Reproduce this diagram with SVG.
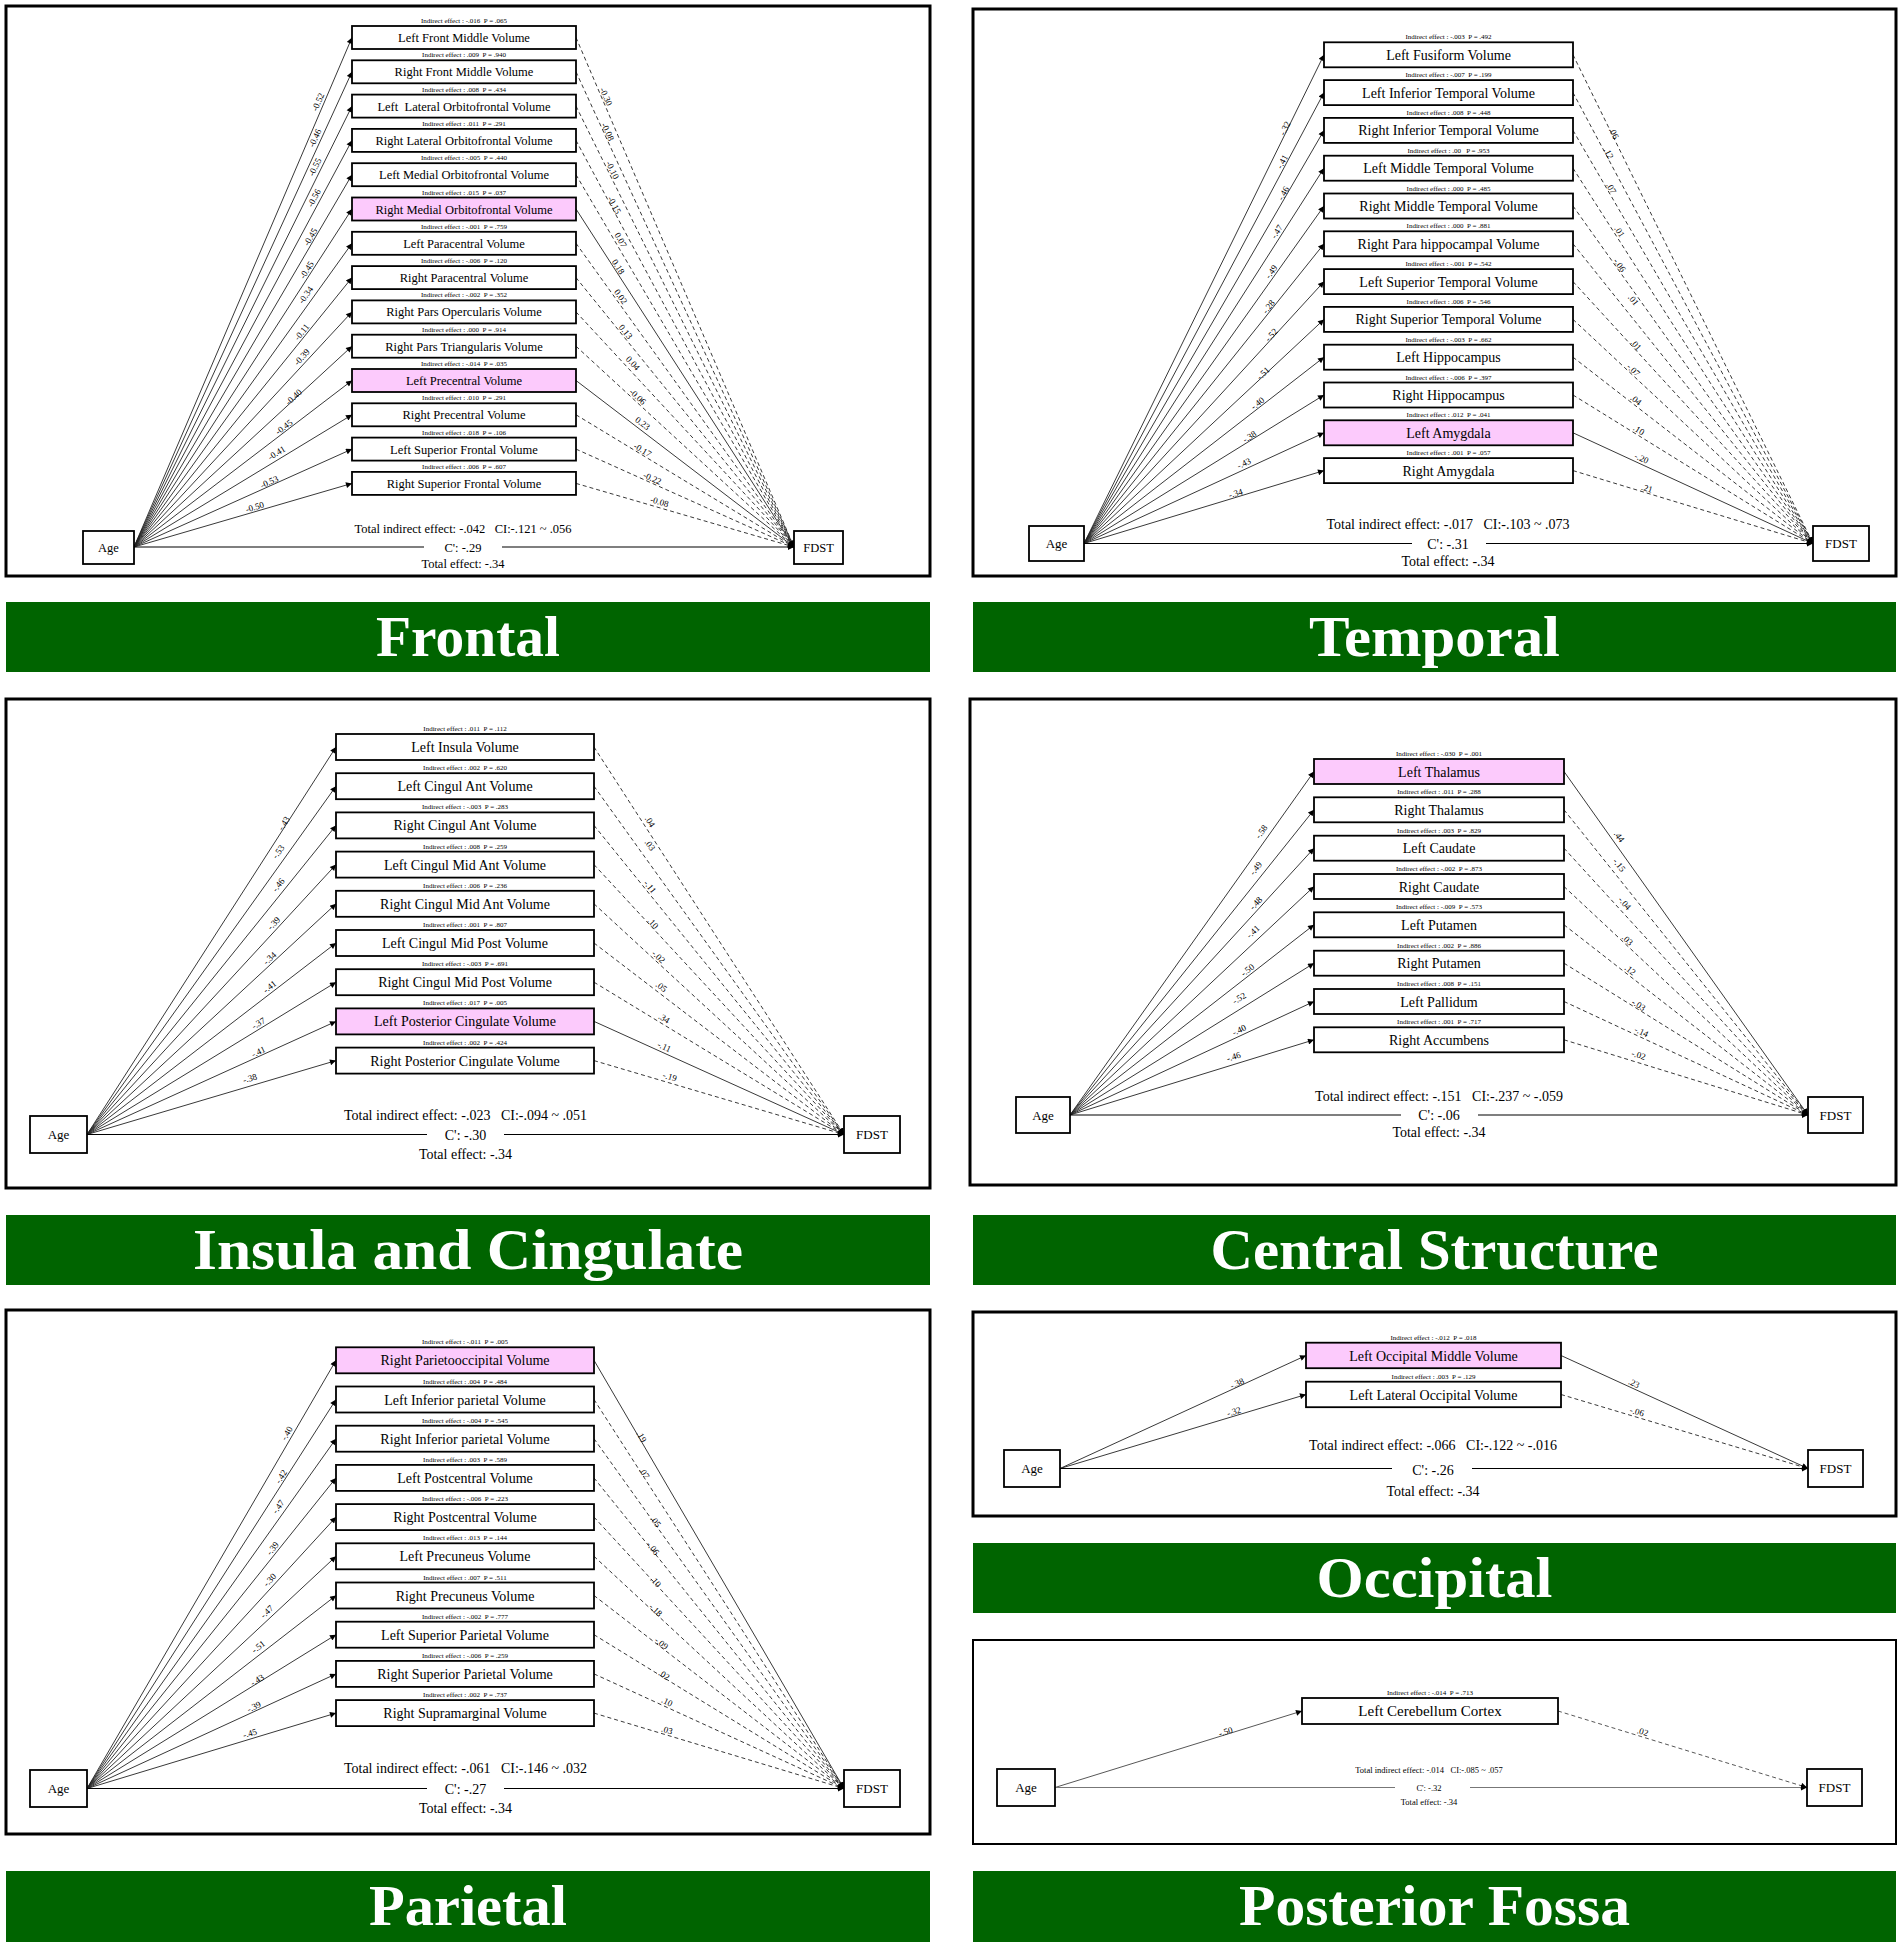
<svg xmlns="http://www.w3.org/2000/svg" width="1902" height="1951" viewBox="0 0 1902 1951">
<style>
text{font-family:"Liberation Serif","Times New Roman",serif;fill:#000}
.pn{fill:none;stroke:#000;stroke-width:3}
.bar{fill:#006400}
.tt{font-weight:bold;font-size:57px;fill:#fff;text-anchor:middle}
.bx{fill:#fff;stroke:#000;stroke-width:1.8}
.hl{fill:#fccafc}
.nm{font-size:14px;text-anchor:middle}
.nf{font-size:12.5px;text-anchor:middle}
.ie{font-size:7px;text-anchor:middle}
.el{font-size:9px;text-anchor:middle}
.sm{font-size:14px;text-anchor:middle}
.smf{font-size:12.5px;text-anchor:middle}
.smp{font-size:8.5px;text-anchor:middle}
.a{stroke:#222;stroke-width:0.9;fill:none;marker-end:url(#ah)}
.d{stroke:#222;stroke-width:0.9;fill:none;stroke-dasharray:4 3;marker-end:url(#ah)}
.c{stroke:#000;stroke-width:1.2;fill:none;marker-end:url(#ah)}
.gap{fill:#fff}
</style>
<defs>
<marker id="ah" viewBox="0 0 10 10" refX="10" refY="5" markerWidth="8" markerHeight="6" markerUnits="userSpaceOnUse" orient="auto"><path d="M0,0 L10,5 L0,10 z" fill="#000"/></marker>
</defs>
<rect width="1902" height="1951" fill="#fff"/>

<!-- panels and title bars -->
<g id="panels">
<rect class="pn" x="6" y="6" width="924" height="570"/>
<rect class="pn" x="973" y="9" width="923" height="567"/>
<rect class="pn" x="6" y="699" width="924" height="489"/>
<rect class="pn" x="970" y="699" width="926" height="486"/>
<rect class="pn" x="6" y="1310" width="924" height="524"/>
<rect class="pn" x="973" y="1312" width="923" height="204"/>
<rect class="pn" x="973" y="1640" width="923" height="204" style="stroke-width:2"/>
</g>
<g id="titles">
<rect class="bar" x="6" y="602" width="924" height="70"/>
<text class="tt" x="468" y="655.5" textLength="184" lengthAdjust="spacingAndGlyphs">Frontal</text>
<rect class="bar" x="973" y="602" width="923" height="70"/>
<text class="tt" x="1434.5" y="655.5" textLength="251" lengthAdjust="spacingAndGlyphs">Temporal</text>
<rect class="bar" x="6" y="1215" width="924" height="70"/>
<text class="tt" x="468" y="1268.5" textLength="550" lengthAdjust="spacingAndGlyphs">Insula and Cingulate</text>
<rect class="bar" x="973" y="1215" width="923" height="70"/>
<text class="tt" x="1434.5" y="1268.5" textLength="448" lengthAdjust="spacingAndGlyphs">Central Structure</text>
<rect class="bar" x="973" y="1543" width="923" height="70"/>
<text class="tt" x="1434.5" y="1596.5" textLength="236" lengthAdjust="spacingAndGlyphs">Occipital</text>
<rect class="bar" x="6" y="1871" width="924" height="71"/>
<text class="tt" x="468" y="1925" textLength="198" lengthAdjust="spacingAndGlyphs">Parietal</text>
<rect class="bar" x="973" y="1871" width="923" height="71"/>
<text class="tt" x="1434.5" y="1925" textLength="391" lengthAdjust="spacingAndGlyphs">Posterior Fossa</text>
</g>

<!-- ================= FRONTAL ================= -->
<g id="fr-edges">
<line class="a" x1="134" y1="547" x2="352" y2="37.5"/>
<line class="a" x1="134" y1="547" x2="352" y2="71.8"/>
<line class="a" x1="134" y1="547" x2="352" y2="106.1"/>
<line class="a" x1="134" y1="547" x2="352" y2="140.4"/>
<line class="a" x1="134" y1="547" x2="352" y2="174.7"/>
<line class="a" x1="134" y1="547" x2="352" y2="209"/>
<line class="a" x1="134" y1="547" x2="352" y2="243.3"/>
<line class="a" x1="134" y1="547" x2="352" y2="277.6"/>
<line class="a" x1="134" y1="547" x2="352" y2="311.9"/>
<line class="a" x1="134" y1="547" x2="352" y2="346.2"/>
<line class="a" x1="134" y1="547" x2="352" y2="380.5"/>
<line class="a" x1="134" y1="547" x2="352" y2="414.8"/>
<line class="a" x1="134" y1="547" x2="352" y2="449.1"/>
<line class="a" x1="134" y1="547" x2="352" y2="483.4"/>
<line class="d" x1="576" y1="37.5" x2="794" y2="547"/>
<line class="d" x1="576" y1="71.8" x2="794" y2="547"/>
<line class="d" x1="576" y1="106.1" x2="794" y2="547"/>
<line class="d" x1="576" y1="140.4" x2="794" y2="547"/>
<line class="d" x1="576" y1="174.7" x2="794" y2="547"/>
<line class="a" x1="576" y1="209" x2="794" y2="547"/>
<line class="d" x1="576" y1="243.3" x2="794" y2="547"/>
<line class="d" x1="576" y1="277.6" x2="794" y2="547"/>
<line class="d" x1="576" y1="311.9" x2="794" y2="547"/>
<line class="d" x1="576" y1="346.2" x2="794" y2="547"/>
<line class="a" x1="576" y1="380.5" x2="794" y2="547"/>
<line class="d" x1="576" y1="414.8" x2="794" y2="547"/>
<line class="d" x1="576" y1="449.1" x2="794" y2="547"/>
<line class="d" x1="576" y1="483.4" x2="794" y2="547"/>
<line class="c" x1="134" y1="547" x2="794" y2="547"/>
<rect class="gap" x="424" y="540" width="78" height="14"/>
<text class="el" transform="translate(318 102) rotate(-66.8)" y="3">-0.52</text>
<text class="el" transform="translate(315 138) rotate(-65.4)" y="3">-0.46</text>
<text class="el" transform="translate(315 167) rotate(-63.7)" y="3">-0.55</text>
<text class="el" transform="translate(314 198) rotate(-61.8)" y="3">-0.56</text>
<text class="el" transform="translate(310.5 237) rotate(-59.7)" y="3">-0.45</text>
<text class="el" transform="translate(306.7 270) rotate(-57.2)" y="3">-0.45</text>
<text class="el" transform="translate(305.7 295) rotate(-54.3)" y="3">-0.34</text>
<text class="el" transform="translate(301.8 332) rotate(-51)" y="3">-0.11</text>
<text class="el" transform="translate(301.8 357) rotate(-47.2)" y="3">-0.39</text>
<text class="el" transform="translate(293.6 397) rotate(-42.6)" y="3">-0.40</text>
<text class="el" transform="translate(284 427) rotate(-37.4)" y="3">-0.45</text>
<text class="el" transform="translate(276.6 453) rotate(-31.2)" y="3">-0.41</text>
<text class="el" transform="translate(269.3 482) rotate(-24.2)" y="3">-0.53</text>
<text class="el" transform="translate(254.8 507) rotate(-16.3)" y="3">-0.50</text>
<text class="el" transform="translate(606 96.7) rotate(66.8)" y="3">-0.30</text>
<text class="el" transform="translate(607.7 131.7) rotate(65.4)" y="3">-0.08</text>
<text class="el" transform="translate(612.5 170) rotate(63.7)" y="3">-0.10</text>
<text class="el" transform="translate(614.4 205) rotate(61.8)" y="3">-0.15</text>
<text class="el" transform="translate(620.7 240) rotate(59.7)" y="3">0.07</text>
<text class="el" transform="translate(618.3 266.7) rotate(57.2)" y="3">0.18</text>
<text class="el" transform="translate(620.7 296.7) rotate(54.3)" y="3">0.02</text>
<text class="el" transform="translate(625.6 331.7) rotate(51)" y="3">0.13</text>
<text class="el" transform="translate(632.9 363.3) rotate(47.2)" y="3">0.04</text>
<text class="el" transform="translate(637.7 396.7) rotate(42.6)" y="3">-0.06</text>
<text class="el" transform="translate(642.6 423.3) rotate(37.4)" y="3">0.23</text>
<text class="el" transform="translate(642.6 450) rotate(31.2)" y="3">-0.17</text>
<text class="el" transform="translate(652.3 478.3) rotate(24.2)" y="3">-0.22</text>
<text class="el" transform="translate(659.5 501.7) rotate(16.3)" y="3">-0.08</text>
<text class="smf" x="463" y="533">Total indirect effect: -.042&#160;&#160; CI:-.121 ~ .056</text>
<text class="smf" x="463" y="551.5">C': -.29</text>
<text class="smf" x="463" y="568">Total effect: -.34</text>
</g>
<g id="fr-age"><rect class="bx" x="83" y="531" width="51" height="33"/><text class="nf" x="108.5" y="551.5">Age</text></g>
<g id="fr-fdst"><rect class="bx" x="794" y="531" width="49" height="33"/><text class="nf" x="818.5" y="551.5">FDST</text></g>
<g id="fr-1"><text class="ie" x="464" y="23">Indirect effect : -.016&#160; P = .065</text><rect class="bx" x="352" y="26" width="224" height="23"/><text class="nf" x="464" y="42">Left Front Middle Volume</text></g>
<g id="fr-2"><text class="ie" x="464" y="57.3">Indirect effect : .009&#160; P = .940</text><rect class="bx" x="352" y="60.3" width="224" height="23"/><text class="nf" x="464" y="76.3">Right Front Middle Volume</text></g>
<g id="fr-3"><text class="ie" x="464" y="91.6">Indirect effect : .008&#160; P = .434</text><rect class="bx" x="352" y="94.6" width="224" height="23"/><text class="nf" x="464" y="110.6">Left&#160; Lateral Orbitofrontal Volume</text></g>
<g id="fr-4"><text class="ie" x="464" y="125.9">Indirect effect : .011&#160; P = .291</text><rect class="bx" x="352" y="128.9" width="224" height="23"/><text class="nf" x="464" y="144.9">Right Lateral Orbitofrontal Volume</text></g>
<g id="fr-5"><text class="ie" x="464" y="160.2">Indirect effect : -.005&#160; P = .440</text><rect class="bx" x="352" y="163.2" width="224" height="23"/><text class="nf" x="464" y="179.2">Left Medial Orbitofrontal Volume</text></g>
<g id="fr-6"><text class="ie" x="464" y="194.5">Indirect effect : .015&#160; P = .037</text><rect class="bx hl" x="352" y="197.5" width="224" height="23"/><text class="nf" x="464" y="213.5">Right Medial Orbitofrontal Volume</text></g>
<g id="fr-7"><text class="ie" x="464" y="228.8">Indirect effect : -.001&#160; P = .759</text><rect class="bx" x="352" y="231.8" width="224" height="23"/><text class="nf" x="464" y="247.8">Left Paracentral Volume</text></g>
<g id="fr-8"><text class="ie" x="464" y="263.1">Indirect effect : -.006&#160; P = .120</text><rect class="bx" x="352" y="266.1" width="224" height="23"/><text class="nf" x="464" y="282.1">Right Paracentral Volume</text></g>
<g id="fr-9"><text class="ie" x="464" y="297.4">Indirect effect : -.002&#160; P = .352</text><rect class="bx" x="352" y="300.4" width="224" height="23"/><text class="nf" x="464" y="316.4">Right Pars Opercularis Volume</text></g>
<g id="fr-10"><text class="ie" x="464" y="331.7">Indirect effect : .000&#160; P = .914</text><rect class="bx" x="352" y="334.7" width="224" height="23"/><text class="nf" x="464" y="350.7">Right Pars Triangularis Volume</text></g>
<g id="fr-11"><text class="ie" x="464" y="366">Indirect effect : -.014&#160; P = .035</text><rect class="bx hl" x="352" y="369" width="224" height="23"/><text class="nf" x="464" y="385">Left Precentral Volume</text></g>
<g id="fr-12"><text class="ie" x="464" y="400.3">Indirect effect : .010&#160; P = .291</text><rect class="bx" x="352" y="403.3" width="224" height="23"/><text class="nf" x="464" y="419.3">Right Precentral Volume</text></g>
<g id="fr-13"><text class="ie" x="464" y="434.6">Indirect effect : .018&#160; P = .106</text><rect class="bx" x="352" y="437.6" width="224" height="23"/><text class="nf" x="464" y="453.6">Left Superior Frontal Volume</text></g>
<g id="fr-14"><text class="ie" x="464" y="468.9">Indirect effect : .006&#160; P = .607</text><rect class="bx" x="352" y="471.9" width="224" height="23"/><text class="nf" x="464" y="487.9">Right Superior Frontal Volume</text></g>

<!-- ================= TEMPORAL ================= -->
<g id="te-edges">
<line class="a" x1="1084" y1="543.5" x2="1324" y2="54.8"/>
<line class="a" x1="1084" y1="543.5" x2="1324" y2="92.6"/>
<line class="a" x1="1084" y1="543.5" x2="1324" y2="130.4"/>
<line class="a" x1="1084" y1="543.5" x2="1324" y2="168.2"/>
<line class="a" x1="1084" y1="543.5" x2="1324" y2="206"/>
<line class="a" x1="1084" y1="543.5" x2="1324" y2="243.8"/>
<line class="a" x1="1084" y1="543.5" x2="1324" y2="281.6"/>
<line class="a" x1="1084" y1="543.5" x2="1324" y2="319.4"/>
<line class="a" x1="1084" y1="543.5" x2="1324" y2="357.2"/>
<line class="a" x1="1084" y1="543.5" x2="1324" y2="395"/>
<line class="a" x1="1084" y1="543.5" x2="1324" y2="432.8"/>
<line class="a" x1="1084" y1="543.5" x2="1324" y2="470.6"/>
<line class="d" x1="1573" y1="54.8" x2="1813" y2="543.5"/>
<line class="d" x1="1573" y1="92.6" x2="1813" y2="543.5"/>
<line class="d" x1="1573" y1="130.4" x2="1813" y2="543.5"/>
<line class="d" x1="1573" y1="168.2" x2="1813" y2="543.5"/>
<line class="d" x1="1573" y1="206" x2="1813" y2="543.5"/>
<line class="d" x1="1573" y1="243.8" x2="1813" y2="543.5"/>
<line class="d" x1="1573" y1="281.6" x2="1813" y2="543.5"/>
<line class="d" x1="1573" y1="319.4" x2="1813" y2="543.5"/>
<line class="d" x1="1573" y1="357.2" x2="1813" y2="543.5"/>
<line class="d" x1="1573" y1="395" x2="1813" y2="543.5"/>
<line class="a" x1="1573" y1="432.8" x2="1813" y2="543.5"/>
<line class="d" x1="1573" y1="470.6" x2="1813" y2="543.5"/>
<line class="c" x1="1084" y1="543.5" x2="1813" y2="543.5"/>
<rect class="gap" x="1412" y="536" width="74" height="15"/>
<text class="el" transform="translate(1285 128.3) rotate(-63.8)" y="3">-.32</text>
<text class="el" transform="translate(1282.3 161.7) rotate(-62)" y="3">-.41</text>
<text class="el" transform="translate(1283.4 193.3) rotate(-59.8)" y="3">-.46</text>
<text class="el" transform="translate(1276.8 231.7) rotate(-57.4)" y="3">-.47</text>
<text class="el" transform="translate(1271.3 271.7) rotate(-54.6)" y="3">-.49</text>
<text class="el" transform="translate(1268.6 306.7) rotate(-51.3)" y="3">-.28</text>
<text class="el" transform="translate(1271.3 335) rotate(-47.5)" y="3">-.52</text>
<text class="el" transform="translate(1263.1 373.3) rotate(-43)" y="3">-.51</text>
<text class="el" transform="translate(1257.6 403.3) rotate(-37.8)" y="3">-.40</text>
<text class="el" transform="translate(1249.4 436.7) rotate(-31.8)" y="3">-.38</text>
<text class="el" transform="translate(1243.9 463.3) rotate(-24.7)" y="3">-.43</text>
<text class="el" transform="translate(1235.7 493.3) rotate(-16.9)" y="3">-.34</text>
<text class="el" transform="translate(1614 133.3) rotate(63.8)" y="3">.06</text>
<text class="el" transform="translate(1608.7 153.3) rotate(62)" y="3">.12</text>
<text class="el" transform="translate(1611.4 188.3) rotate(59.8)" y="3">.07</text>
<text class="el" transform="translate(1619.6 231.7) rotate(57.4)" y="3">.01</text>
<text class="el" transform="translate(1619.6 265) rotate(54.6)" y="3">-.06</text>
<text class="el" transform="translate(1633.4 300) rotate(51.3)" y="3">.01</text>
<text class="el" transform="translate(1636 345) rotate(47.5)" y="3">.01</text>
<text class="el" transform="translate(1633.4 370) rotate(43)" y="3">-.07</text>
<text class="el" transform="translate(1636 400) rotate(37.8)" y="3">.04</text>
<text class="el" transform="translate(1638.8 430) rotate(31.8)" y="3">.10</text>
<text class="el" transform="translate(1641.6 458.3) rotate(24.7)" y="3">-.20</text>
<text class="el" transform="translate(1647 488.3) rotate(16.9)" y="3">.21</text>
<text class="sm" x="1448" y="529">Total indirect effect: -.017&#160;&#160; CI:-.103 ~ .073</text>
<text class="sm" x="1448" y="548.5">C': -.31</text>
<text class="sm" x="1448" y="566">Total effect: -.34</text>
</g>
<g id="te-age"><rect class="bx" x="1029" y="526" width="55" height="35"/><text class="nm" x="1056.5" y="548" style="font-size:13px">Age</text></g>
<g id="te-fdst"><rect class="bx" x="1813" y="526" width="56" height="35"/><text class="nm" x="1841" y="548" style="font-size:13px">FDST</text></g>
<g id="te-1"><text class="ie" x="1448.5" y="39.3">Indirect effect : -.003&#160; P = .492</text><rect class="bx" x="1324" y="42.3" width="249" height="25"/><text class="nm" x="1448.5" y="59.8">Left Fusiform Volume</text></g>
<g id="te-2"><text class="ie" x="1448.5" y="77.1">Indirect effect : -.007&#160; P = .199</text><rect class="bx" x="1324" y="80.1" width="249" height="25"/><text class="nm" x="1448.5" y="97.6">Left Inferior Temporal Volume</text></g>
<g id="te-3"><text class="ie" x="1448.5" y="114.9">Indirect effect : .008&#160; P = .448</text><rect class="bx" x="1324" y="117.9" width="249" height="25"/><text class="nm" x="1448.5" y="135.4">Right Inferior Temporal Volume</text></g>
<g id="te-4"><text class="ie" x="1448.5" y="152.7">Indirect effect : .00&#160;&#160; P = .953</text><rect class="bx" x="1324" y="155.7" width="249" height="25"/><text class="nm" x="1448.5" y="173.2">Left Middle Temporal Volume</text></g>
<g id="te-5"><text class="ie" x="1448.5" y="190.5">Indirect effect : .000&#160; P = .485</text><rect class="bx" x="1324" y="193.5" width="249" height="25"/><text class="nm" x="1448.5" y="211">Right Middle Temporal Volume</text></g>
<g id="te-6"><text class="ie" x="1448.5" y="228.3">Indirect effect : .000&#160; P = .881</text><rect class="bx" x="1324" y="231.3" width="249" height="25"/><text class="nm" x="1448.5" y="248.8">Right Para hippocampal Volume</text></g>
<g id="te-7"><text class="ie" x="1448.5" y="266.1">Indirect effect : -.001&#160; P = .542</text><rect class="bx" x="1324" y="269.1" width="249" height="25"/><text class="nm" x="1448.5" y="286.6">Left Superior Temporal Volume</text></g>
<g id="te-8"><text class="ie" x="1448.5" y="303.9">Indirect effect : .006&#160; P = .546</text><rect class="bx" x="1324" y="306.9" width="249" height="25"/><text class="nm" x="1448.5" y="324.4">Right Superior Temporal Volume</text></g>
<g id="te-9"><text class="ie" x="1448.5" y="341.7">Indirect effect : -.003&#160; P = .662</text><rect class="bx" x="1324" y="344.7" width="249" height="25"/><text class="nm" x="1448.5" y="362.2">Left Hippocampus</text></g>
<g id="te-10"><text class="ie" x="1448.5" y="379.5">Indirect effect : -.006&#160; P = .397</text><rect class="bx" x="1324" y="382.5" width="249" height="25"/><text class="nm" x="1448.5" y="400">Right Hippocampus</text></g>
<g id="te-11"><text class="ie" x="1448.5" y="417.3">Indirect effect : .012&#160; P = .041</text><rect class="bx hl" x="1324" y="420.3" width="249" height="25"/><text class="nm" x="1448.5" y="437.8">Left Amygdala</text></g>
<g id="te-12"><text class="ie" x="1448.5" y="455.1">Indirect effect : .001&#160; P = .057</text><rect class="bx" x="1324" y="458.1" width="249" height="25"/><text class="nm" x="1448.5" y="475.6">Right Amygdala</text></g>

<!-- ================= INSULA AND CINGULATE ================= -->
<g id="in-edges">
<line class="a" x1="87" y1="1134.5" x2="336" y2="747"/>
<line class="a" x1="87" y1="1134.5" x2="336" y2="786.2"/>
<line class="a" x1="87" y1="1134.5" x2="336" y2="825.4"/>
<line class="a" x1="87" y1="1134.5" x2="336" y2="864.6"/>
<line class="a" x1="87" y1="1134.5" x2="336" y2="903.8"/>
<line class="a" x1="87" y1="1134.5" x2="336" y2="943"/>
<line class="a" x1="87" y1="1134.5" x2="336" y2="982.2"/>
<line class="a" x1="87" y1="1134.5" x2="336" y2="1021.4"/>
<line class="a" x1="87" y1="1134.5" x2="336" y2="1060.6"/>
<line class="d" x1="594" y1="747" x2="844" y2="1134.5"/>
<line class="d" x1="594" y1="786.2" x2="844" y2="1134.5"/>
<line class="d" x1="594" y1="825.4" x2="844" y2="1134.5"/>
<line class="d" x1="594" y1="864.6" x2="844" y2="1134.5"/>
<line class="d" x1="594" y1="903.8" x2="844" y2="1134.5"/>
<line class="d" x1="594" y1="943" x2="844" y2="1134.5"/>
<line class="d" x1="594" y1="982.2" x2="844" y2="1134.5"/>
<line class="a" x1="594" y1="1021.4" x2="844" y2="1134.5"/>
<line class="d" x1="594" y1="1060.6" x2="844" y2="1134.5"/>
<line class="c" x1="87" y1="1134.5" x2="844" y2="1134.5"/>
<rect class="gap" x="427" y="1127" width="77" height="15"/>
<text class="el" transform="translate(283.9 823.3) rotate(-57.3)" y="3">-.43</text>
<text class="el" transform="translate(278.3 851.7) rotate(-54.4)" y="3">-.53</text>
<text class="el" transform="translate(278.3 885) rotate(-51.1)" y="3">-.46</text>
<text class="el" transform="translate(273.7 923.3) rotate(-47.3)" y="3">-.39</text>
<text class="el" transform="translate(269.7 958.3) rotate(-42.8)" y="3">-.34</text>
<text class="el" transform="translate(269.7 986.7) rotate(-37.6)" y="3">-.41</text>
<text class="el" transform="translate(258.4 1023.3) rotate(-31.5)" y="3">-.37</text>
<text class="el" transform="translate(258.4 1051.7) rotate(-24.4)" y="3">-.41</text>
<text class="el" transform="translate(249.9 1078.3) rotate(-16.5)" y="3">-.38</text>
<text class="el" transform="translate(650 821.7) rotate(57.3)" y="3">.04</text>
<text class="el" transform="translate(650 845) rotate(54.4)" y="3">.03</text>
<text class="el" transform="translate(650 886.7) rotate(51.1)" y="3">-.11</text>
<text class="el" transform="translate(652.9 923.3) rotate(47.3)" y="3">.10</text>
<text class="el" transform="translate(658.5 956.7) rotate(42.8)" y="3">-.02</text>
<text class="el" transform="translate(661.4 986.7) rotate(37.6)" y="3">.05</text>
<text class="el" transform="translate(664.2 1018.3) rotate(31.5)" y="3">.34</text>
<text class="el" transform="translate(664.2 1046.7) rotate(24.4)" y="3">-.11</text>
<text class="el" transform="translate(669.9 1076.7) rotate(16.5)" y="3">-.19</text>
<text class="sm" x="465.5" y="1119.5">Total indirect effect: -.023&#160;&#160; CI:-.094 ~ .051</text>
<text class="sm" x="465.5" y="1139.5">C': -.30</text>
<text class="sm" x="465.5" y="1159">Total effect: -.34</text>
</g>
<g id="in-age"><rect class="bx" x="30" y="1116" width="57" height="37"/><text class="nm" x="58.5" y="1139" style="font-size:13px">Age</text></g>
<g id="in-fdst"><rect class="bx" x="844" y="1116" width="56" height="37"/><text class="nm" x="872" y="1139" style="font-size:13px">FDST</text></g>
<g id="in-1"><text class="ie" x="465" y="731">Indirect effect : .011&#160; P = .112</text><rect class="bx" x="336" y="734" width="258" height="26"/><text class="nm" x="465" y="752">Left Insula Volume</text></g>
<g id="in-2"><text class="ie" x="465" y="770.2">Indirect effect : .002&#160; P = .620</text><rect class="bx" x="336" y="773.2" width="258" height="26"/><text class="nm" x="465" y="791.2">Left Cingul Ant Volume</text></g>
<g id="in-3"><text class="ie" x="465" y="809.4">Indirect effect : -.003&#160; P = .283</text><rect class="bx" x="336" y="812.4" width="258" height="26"/><text class="nm" x="465" y="830.4">Right Cingul Ant Volume</text></g>
<g id="in-4"><text class="ie" x="465" y="848.6">Indirect effect : .008&#160; P = .259</text><rect class="bx" x="336" y="851.6" width="258" height="26"/><text class="nm" x="465" y="869.6">Left Cingul Mid Ant Volume</text></g>
<g id="in-5"><text class="ie" x="465" y="887.8">Indirect effect : .006&#160; P = .236</text><rect class="bx" x="336" y="890.8" width="258" height="26"/><text class="nm" x="465" y="908.8">Right Cingul Mid Ant Volume</text></g>
<g id="in-6"><text class="ie" x="465" y="927">Indirect effect : .001&#160; P = .807</text><rect class="bx" x="336" y="930" width="258" height="26"/><text class="nm" x="465" y="948">Left Cingul Mid Post Volume</text></g>
<g id="in-7"><text class="ie" x="465" y="966.2">Indirect effect : -.003&#160; P = .691</text><rect class="bx" x="336" y="969.2" width="258" height="26"/><text class="nm" x="465" y="987.2">Right Cingul Mid Post Volume</text></g>
<g id="in-8"><text class="ie" x="465" y="1005.4">Indirect effect : .017&#160; P = .005</text><rect class="bx hl" x="336" y="1008.4" width="258" height="26"/><text class="nm" x="465" y="1026.4">Left Posterior Cingulate Volume</text></g>
<g id="in-9"><text class="ie" x="465" y="1044.6">Indirect effect : .002&#160; P = .424</text><rect class="bx" x="336" y="1047.6" width="258" height="26"/><text class="nm" x="465" y="1065.6">Right Posterior Cingulate Volume</text></g>

<!-- ================= CENTRAL STRUCTURE ================= -->
<g id="ce-edges">
<line class="a" x1="1070" y1="1115" x2="1314" y2="771.5"/>
<line class="a" x1="1070" y1="1115" x2="1314" y2="809.8"/>
<line class="a" x1="1070" y1="1115" x2="1314" y2="848.2"/>
<line class="a" x1="1070" y1="1115" x2="1314" y2="886.5"/>
<line class="a" x1="1070" y1="1115" x2="1314" y2="924.8"/>
<line class="a" x1="1070" y1="1115" x2="1314" y2="963.2"/>
<line class="a" x1="1070" y1="1115" x2="1314" y2="1001.5"/>
<line class="a" x1="1070" y1="1115" x2="1314" y2="1039.8"/>
<line class="a" x1="1564" y1="771.5" x2="1808" y2="1115"/>
<line class="d" x1="1564" y1="809.8" x2="1808" y2="1115"/>
<line class="d" x1="1564" y1="848.2" x2="1808" y2="1115"/>
<line class="d" x1="1564" y1="886.5" x2="1808" y2="1115"/>
<line class="d" x1="1564" y1="924.8" x2="1808" y2="1115"/>
<line class="d" x1="1564" y1="963.2" x2="1808" y2="1115"/>
<line class="d" x1="1564" y1="1001.5" x2="1808" y2="1115"/>
<line class="d" x1="1564" y1="1039.8" x2="1808" y2="1115"/>
<line class="c" x1="1070" y1="1115" x2="1808" y2="1115"/>
<rect class="gap" x="1401" y="1108" width="77" height="15"/>
<text class="el" transform="translate(1261.3 831.7) rotate(-54.6)" y="3">-.58</text>
<text class="el" transform="translate(1255.8 868.3) rotate(-51.4)" y="3">-.49</text>
<text class="el" transform="translate(1255.8 903.3) rotate(-47.5)" y="3">-.48</text>
<text class="el" transform="translate(1253 931.7) rotate(-43.1)" y="3">-.41</text>
<text class="el" transform="translate(1247.5 970) rotate(-37.9)" y="3">-.50</text>
<text class="el" transform="translate(1239.1 998.3) rotate(-31.9)" y="3">-.52</text>
<text class="el" transform="translate(1239.1 1030) rotate(-24.9)" y="3">-.40</text>
<text class="el" transform="translate(1233.6 1056.7) rotate(-17.1)" y="3">-.46</text>
<text class="el" transform="translate(1619.2 836.7) rotate(54.6)" y="3">.44</text>
<text class="el" transform="translate(1619.2 865) rotate(51.4)" y="3">-.15</text>
<text class="el" transform="translate(1624.7 903.3) rotate(47.5)" y="3">-.04</text>
<text class="el" transform="translate(1627.5 940) rotate(43.1)" y="3">.03</text>
<text class="el" transform="translate(1630.3 970) rotate(37.9)" y="3">.12</text>
<text class="el" transform="translate(1638.6 1005) rotate(31.9)" y="3">-.03</text>
<text class="el" transform="translate(1641.4 1031.7) rotate(24.9)" y="3">-.14</text>
<text class="el" transform="translate(1638.6 1055) rotate(17.1)" y="3">-.02</text>
<text class="sm" x="1439" y="1101">Total indirect effect: -.151&#160;&#160; CI:-.237 ~ -.059</text>
<text class="sm" x="1439" y="1120">C': -.06</text>
<text class="sm" x="1439" y="1136.5">Total effect: -.34</text>
</g>
<g id="ce-age"><rect class="bx" x="1016" y="1097" width="54" height="36"/><text class="nm" x="1043" y="1119.5" style="font-size:13px">Age</text></g>
<g id="ce-fdst"><rect class="bx" x="1808" y="1097" width="55" height="36"/><text class="nm" x="1835.5" y="1119.5" style="font-size:13px">FDST</text></g>
<g id="ce-1"><text class="ie" x="1439" y="756">Indirect effect : -.030&#160; P = .001</text><rect class="bx hl" x="1314" y="759" width="250" height="25"/><text class="nm" x="1439" y="776.5">Left Thalamus</text></g>
<g id="ce-2"><text class="ie" x="1439" y="794.3">Indirect effect : .011&#160; P = .288</text><rect class="bx" x="1314" y="797.3" width="250" height="25"/><text class="nm" x="1439" y="814.8">Right Thalamus</text></g>
<g id="ce-3"><text class="ie" x="1439" y="832.7">Indirect effect : .003&#160; P = .829</text><rect class="bx" x="1314" y="835.7" width="250" height="25"/><text class="nm" x="1439" y="853.2">Left Caudate</text></g>
<g id="ce-4"><text class="ie" x="1439" y="871">Indirect effect : -.002&#160; P = .873</text><rect class="bx" x="1314" y="874" width="250" height="25"/><text class="nm" x="1439" y="891.5">Right Caudate</text></g>
<g id="ce-5"><text class="ie" x="1439" y="909.3">Indirect effect : -.009&#160; P = .573</text><rect class="bx" x="1314" y="912.3" width="250" height="25"/><text class="nm" x="1439" y="929.8">Left Putamen</text></g>
<g id="ce-6"><text class="ie" x="1439" y="947.7">Indirect effect : .002&#160; P = .886</text><rect class="bx" x="1314" y="950.7" width="250" height="25"/><text class="nm" x="1439" y="968.2">Right Putamen</text></g>
<g id="ce-7"><text class="ie" x="1439" y="986">Indirect effect : .008&#160; P = .151</text><rect class="bx" x="1314" y="989" width="250" height="25"/><text class="nm" x="1439" y="1006.5">Left Pallidum</text></g>
<g id="ce-8"><text class="ie" x="1439" y="1024.3">Indirect effect : .001&#160; P = .717</text><rect class="bx" x="1314" y="1027.3" width="250" height="25"/><text class="nm" x="1439" y="1044.8">Right Accumbens</text></g>

<!-- ================= PARIETAL ================= -->
<g id="pa-edges">
<line class="a" x1="87" y1="1788.5" x2="336" y2="1360.3"/>
<line class="a" x1="87" y1="1788.5" x2="336" y2="1399.5"/>
<line class="a" x1="87" y1="1788.5" x2="336" y2="1438.7"/>
<line class="a" x1="87" y1="1788.5" x2="336" y2="1477.9"/>
<line class="a" x1="87" y1="1788.5" x2="336" y2="1517.1"/>
<line class="a" x1="87" y1="1788.5" x2="336" y2="1556.3"/>
<line class="a" x1="87" y1="1788.5" x2="336" y2="1595.5"/>
<line class="a" x1="87" y1="1788.5" x2="336" y2="1634.7"/>
<line class="a" x1="87" y1="1788.5" x2="336" y2="1673.9"/>
<line class="a" x1="87" y1="1788.5" x2="336" y2="1713.1"/>
<line class="a" x1="594" y1="1360.3" x2="844" y2="1788.5"/>
<line class="d" x1="594" y1="1399.5" x2="844" y2="1788.5"/>
<line class="d" x1="594" y1="1438.7" x2="844" y2="1788.5"/>
<line class="d" x1="594" y1="1477.9" x2="844" y2="1788.5"/>
<line class="d" x1="594" y1="1517.1" x2="844" y2="1788.5"/>
<line class="d" x1="594" y1="1556.3" x2="844" y2="1788.5"/>
<line class="d" x1="594" y1="1595.5" x2="844" y2="1788.5"/>
<line class="d" x1="594" y1="1634.7" x2="844" y2="1788.5"/>
<line class="d" x1="594" y1="1673.9" x2="844" y2="1788.5"/>
<line class="d" x1="594" y1="1713.1" x2="844" y2="1788.5"/>
<line class="c" x1="87" y1="1788.5" x2="844" y2="1788.5"/>
<rect class="gap" x="427" y="1781" width="77" height="15"/>
<text class="el" transform="translate(286.8 1433.3) rotate(-59.8)" y="3">-.40</text>
<text class="el" transform="translate(281.1 1476.7) rotate(-57.4)" y="3">-.42</text>
<text class="el" transform="translate(278.3 1506.7) rotate(-54.6)" y="3">-.47</text>
<text class="el" transform="translate(272.6 1548.3) rotate(-51.3)" y="3">-.39</text>
<text class="el" transform="translate(269.7 1580) rotate(-47.5)" y="3">-.30</text>
<text class="el" transform="translate(266.9 1611.7) rotate(-43)" y="3">-.47</text>
<text class="el" transform="translate(258.4 1646.7) rotate(-37.8)" y="3">-.51</text>
<text class="el" transform="translate(257.3 1680) rotate(-31.7)" y="3">-.43</text>
<text class="el" transform="translate(253.9 1706.7) rotate(-24.7)" y="3">-.39</text>
<text class="el" transform="translate(249.9 1733.3) rotate(-16.8)" y="3">-.45</text>
<text class="el" transform="translate(641.5 1436.7) rotate(59.8)" y="3">.19</text>
<text class="el" transform="translate(644.4 1473.3) rotate(57.4)" y="3">.07</text>
<text class="el" transform="translate(655.7 1521.7) rotate(54.6)" y="3">.05</text>
<text class="el" transform="translate(652.9 1548.3) rotate(51.3)" y="3">-.06</text>
<text class="el" transform="translate(655.7 1581.7) rotate(47.5)" y="3">.10</text>
<text class="el" transform="translate(655.7 1610) rotate(43)" y="3">-.18</text>
<text class="el" transform="translate(661.4 1643.3) rotate(37.8)" y="3">-.09</text>
<text class="el" transform="translate(664.2 1675) rotate(31.7)" y="3">.02</text>
<text class="el" transform="translate(667 1701.7) rotate(24.7)" y="3">.10</text>
<text class="el" transform="translate(667 1730) rotate(16.8)" y="3">.03</text>
<text class="sm" x="465.5" y="1773">Total indirect effect: -.061&#160;&#160; CI:-.146 ~ .032</text>
<text class="sm" x="465.5" y="1793.5">C': -.27</text>
<text class="sm" x="465.5" y="1813">Total effect: -.34</text>
</g>
<g id="pa-age"><rect class="bx" x="30" y="1770" width="57" height="37"/><text class="nm" x="58.5" y="1793" style="font-size:13px">Age</text></g>
<g id="pa-fdst"><rect class="bx" x="844" y="1770" width="56" height="37"/><text class="nm" x="872" y="1793" style="font-size:13px">FDST</text></g>
<g id="pa-1"><text class="ie" x="465" y="1344.3">Indirect effect : -.011&#160; P = .005</text><rect class="bx hl" x="336" y="1347.3" width="258" height="26"/><text class="nm" x="465" y="1365.3">Right Parietooccipital Volume</text></g>
<g id="pa-2"><text class="ie" x="465" y="1383.5">Indirect effect : .004&#160; P = .484</text><rect class="bx" x="336" y="1386.5" width="258" height="26"/><text class="nm" x="465" y="1404.5">Left Inferior parietal Volume</text></g>
<g id="pa-3"><text class="ie" x="465" y="1422.7">Indirect effect : -.004&#160; P = .545</text><rect class="bx" x="336" y="1425.7" width="258" height="26"/><text class="nm" x="465" y="1443.7">Right Inferior parietal Volume</text></g>
<g id="pa-4"><text class="ie" x="465" y="1461.9">Indirect effect : .003&#160; P = .589</text><rect class="bx" x="336" y="1464.9" width="258" height="26"/><text class="nm" x="465" y="1482.9">Left Postcentral Volume</text></g>
<g id="pa-5"><text class="ie" x="465" y="1501.1">Indirect effect : -.006&#160; P = .223</text><rect class="bx" x="336" y="1504.1" width="258" height="26"/><text class="nm" x="465" y="1522.1">Right Postcentral Volume</text></g>
<g id="pa-6"><text class="ie" x="465" y="1540.3">Indirect effect : .013&#160; P = .144</text><rect class="bx" x="336" y="1543.3" width="258" height="26"/><text class="nm" x="465" y="1561.3">Left Precuneus Volume</text></g>
<g id="pa-7"><text class="ie" x="465" y="1579.5">Indirect effect : .007&#160; P = .511</text><rect class="bx" x="336" y="1582.5" width="258" height="26"/><text class="nm" x="465" y="1600.5">Right Precuneus Volume</text></g>
<g id="pa-8"><text class="ie" x="465" y="1618.7">Indirect effect : -.002&#160; P = .777</text><rect class="bx" x="336" y="1621.7" width="258" height="26"/><text class="nm" x="465" y="1639.7">Left Superior Parietal Volume</text></g>
<g id="pa-9"><text class="ie" x="465" y="1657.9">Indirect effect : -.006&#160; P = .259</text><rect class="bx" x="336" y="1660.9" width="258" height="26"/><text class="nm" x="465" y="1678.9">Right Superior Parietal Volume</text></g>
<g id="pa-10"><text class="ie" x="465" y="1697.1">Indirect effect : .002&#160; P = .737</text><rect class="bx" x="336" y="1700.1" width="258" height="26"/><text class="nm" x="465" y="1718.1">Right Supramarginal Volume</text></g>

<!-- ================= OCCIPITAL ================= -->
<g id="oc-edges">
<line class="a" x1="1060" y1="1468.5" x2="1306" y2="1355.5"/>
<line class="a" x1="1060" y1="1468.5" x2="1306" y2="1394.5"/>
<line class="a" x1="1561" y1="1355.5" x2="1808" y2="1468.5"/>
<line class="d" x1="1561" y1="1394.5" x2="1808" y2="1468.5"/>
<line class="c" x1="1060" y1="1468.5" x2="1808" y2="1468.5"/>
<rect class="gap" x="1392" y="1461" width="80" height="15"/>
<text class="el" transform="translate(1237 1383.3) rotate(-24.7)" y="3">-.38</text>
<text class="el" transform="translate(1234 1411.7) rotate(-16.7)" y="3">-.32</text>
<text class="el" transform="translate(1634 1383.3) rotate(24.7)" y="3">.23</text>
<text class="el" transform="translate(1637 1411.7) rotate(16.7)" y="3">-.06</text>
<text class="sm" x="1433" y="1449.5">Total indirect effect: -.066&#160;&#160; CI:-.122 ~ -.016</text>
<text class="sm" x="1433" y="1474.5">C': -.26</text>
<text class="sm" x="1433" y="1496">Total effect: -.34</text>
</g>
<g id="oc-age"><rect class="bx" x="1004" y="1450" width="56" height="37"/><text class="nm" x="1032" y="1473" style="font-size:13px">Age</text></g>
<g id="oc-fdst"><rect class="bx" x="1808" y="1450" width="55" height="37"/><text class="nm" x="1835.5" y="1473" style="font-size:13px">FDST</text></g>
<g id="oc-1"><text class="ie" x="1433.5" y="1339.7">Indirect effect : -.012&#160; P = .018</text><rect class="bx hl" x="1306" y="1342.7" width="255" height="25.5"/><text class="nm" x="1433.5" y="1360.5">Left Occipital Middle Volume</text></g>
<g id="oc-2"><text class="ie" x="1433.5" y="1378.7">Indirect effect : .003&#160; P = .129</text><rect class="bx" x="1306" y="1381.7" width="255" height="25.5"/><text class="nm" x="1433.5" y="1399.5">Left Lateral Occipital Volume</text></g>

<!-- ================= POSTERIOR FOSSA ================= -->
<g id="pf-edges">
<line class="a" x1="1055" y1="1787.5" x2="1302" y2="1711" style="stroke:#444"/>
<line class="d" x1="1558" y1="1711" x2="1807" y2="1787.5" style="stroke:#444"/>
<line class="c" x1="1055" y1="1787.5" x2="1807" y2="1787.5" style="stroke:#777;stroke-width:1"/>
<rect class="gap" x="1395" y="1781" width="75" height="12"/>
<text class="el" transform="translate(1225.6 1731.7) rotate(-17.2)" y="3">-.50</text>
<text class="el" transform="translate(1642.7 1731.7) rotate(17.1)" y="3">.02</text>
<text class="smp" x="1429" y="1772.5">Total indirect effect: -.014&#160;&#160; CI:-.085 ~ .057</text>
<text class="smp" x="1429" y="1790.5">C': -.32</text>
<text class="smp" x="1429" y="1804.5">Total effect: -.34</text>
</g>
<g id="pf-age"><rect class="bx" x="997" y="1769" width="58" height="37"/><text class="nm" x="1026" y="1792" style="font-size:13px">Age</text></g>
<g id="pf-fdst"><rect class="bx" x="1807" y="1769" width="55" height="37"/><text class="nm" x="1834.5" y="1792" style="font-size:13px">FDST</text></g>
<g id="pf-1"><text class="ie" x="1430" y="1694.5">Indirect effect : -.014&#160; P = .713</text><rect class="bx" x="1302" y="1698" width="256" height="26"/><text class="nm" x="1430" y="1716" style="font-size:15px">Left Cerebellum Cortex</text></g>
</svg>
